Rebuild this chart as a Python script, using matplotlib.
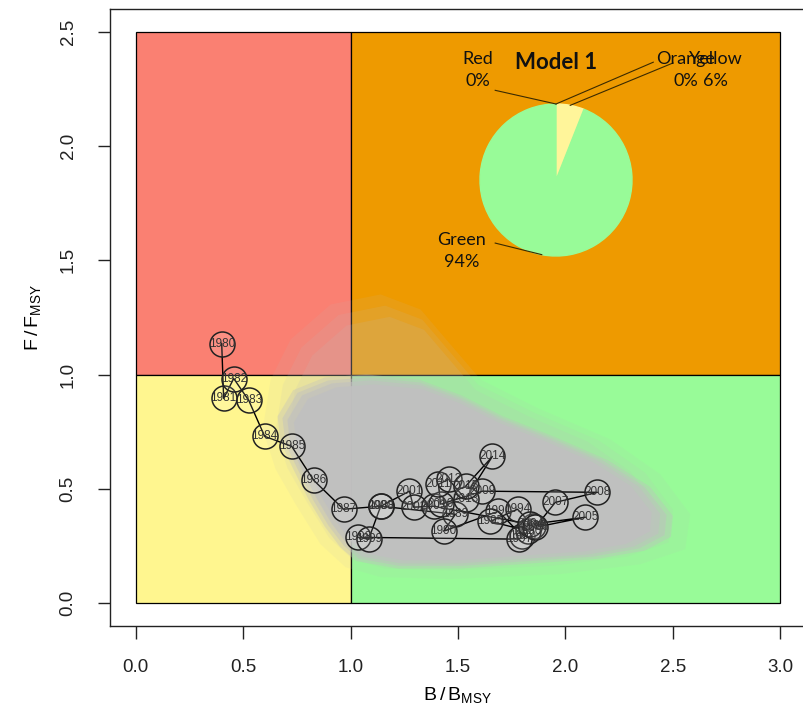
import numpy as np
import matplotlib
matplotlib.use("Agg")
import matplotlib.pyplot as plt
from matplotlib.patches import Rectangle, Polygon

plt.rcParams['font.family'] = ['Liberation Sans', 'DejaVu Sans']
plt.rcParams['mathtext.fontset'] = 'custom'
plt.rcParams['mathtext.rm'] = 'Liberation Sans'

# ---- data ----
years = list(range(1980, 2016))
b_bmsy = [0.400, 0.409, 0.456, 0.526, 0.600, 0.726, 0.828, 0.967, 1.140, 1.488,
          1.433, 1.688, 1.800, 1.851, 1.777, 1.651, 1.828, 1.786, 1.033, 1.084,
          1.140, 1.274, 1.293, 1.386, 1.837, 2.093, 1.860, 1.953, 2.149, 1.614,
          1.419, 1.409, 1.456, 1.535, 1.660, 1.535]
f_fmsy = [1.136, 0.896, 0.983, 0.887, 0.730, 0.686, 0.538, 0.411, 0.424, 0.389,
          0.315, 0.402, 0.293, 0.337, 0.411, 0.358, 0.315, 0.280, 0.288, 0.280,
          0.424, 0.490, 0.420, 0.424, 0.345, 0.376, 0.332, 0.441, 0.485, 0.490,
          0.433, 0.520, 0.542, 0.455, 0.642, 0.511]

# outline of the dense uncertainty cloud and of its faint halo
cloud_x = [0.698, 0.767, 0.907, 1.093, 1.326, 1.512, 1.698, 1.930, 2.163, 2.349,
           2.451, 2.442, 2.326, 2.116, 1.837, 1.512, 1.233, 1.047, 0.977, 0.907,
           0.837, 0.767, 0.712]
cloud_y = [0.804, 0.913, 0.966, 0.979, 0.957, 0.892, 0.804, 0.717, 0.621, 0.511,
           0.389, 0.302, 0.245, 0.210, 0.192, 0.170, 0.170, 0.201, 0.258, 0.345,
           0.455, 0.586, 0.695]
halo_x = [0.591, 0.628, 0.721, 0.907, 1.140, 1.326, 1.465, 1.605, 1.884, 2.209,
          2.442, 2.581, 2.558, 2.349, 1.977, 1.465, 1.140, 0.977, 0.860, 0.744, 0.651]
halo_y = [0.760, 0.979, 1.154, 1.307, 1.351, 1.285, 1.132, 0.979, 0.848, 0.717,
          0.564, 0.389, 0.236, 0.170, 0.127, 0.105, 0.114, 0.157, 0.258, 0.433, 0.586]

pie_labels = ["Red", "Orange", "Yellow", "Green"]
pie_pct = [0, 0, 6, 94]
pie_cols = ["#FA8072", "#EE9A00", "#FFF59A", "#98FB98"]

# quadrant colours
c_red, c_orange, c_yellow, c_green = "#FA8072", "#EE9A00", "#FFF68F", "#98FB98"

fig = plt.figure(figsize=(8.04, 7.2), dpi=100)
ax = fig.add_axes([110/804, 94/720, 696/804, 617/720])
ax.set_xlim(-0.12, 3.12)
ax.set_ylim(-0.1, 2.6)

# Kobe quadrants
for (x0, y0, w, h, c) in [(0, 1, 1, 1.5, c_red), (1, 1, 2, 1.5, c_orange),
                          (0, 0, 1, 1, c_yellow), (1, 0, 2, 1, c_green)]:
    ax.add_patch(Rectangle((x0, y0), w, h, facecolor=c, edgecolor='black', lw=0.9, zorder=1))


def soft_blob(xs, ys, color, alphas, scales, z):
    # stack a few shrunken copies so the edge fades like a point cloud
    pts = np.column_stack([xs, ys])
    cen = pts.mean(axis=0)
    for a, s in zip(alphas, scales):
        ax.add_patch(Polygon(cen + (pts - cen) * s, closed=True, facecolor=color,
                             alpha=a, edgecolor='none', zorder=z))


soft_blob(halo_x, halo_y, '#BEBEBE', [0.10, 0.12, 0.14], [1.0, 0.93, 0.86], 2)
soft_blob(cloud_x, cloud_y, '#C0C0C0', [0.35, 0.45, 0.6, 0.9], [1.05, 1.02, 0.99, 0.95], 3)

# trajectory
ax.plot(b_bmsy, f_fmsy, color='black', lw=1.0, zorder=4)
ax.scatter(b_bmsy, f_fmsy, s=18**2, facecolors=(1, 1, 1, 0.12),
           edgecolors='#222222', linewidths=1.1, zorder=5)
for yr, bx, fy in zip(years, b_bmsy, f_fmsy):
    ax.text(bx, fy, str(yr), fontsize=8.5, color='#333333', ha='center', va='center', zorder=6)

ax.set_xticks([0, 0.5, 1, 1.5, 2, 2.5, 3])
ax.set_yticks([0, 0.5, 1, 1.5, 2, 2.5])
ax.set_xticklabels(["0.0", "0.5", "1.0", "1.5", "2.0", "2.5", "3.0"])
ax.set_yticklabels(["0.0", "0.5", "1.0", "1.5", "2.0", "2.5"])
ax.tick_params(direction='out', length=9, width=1, labelsize=13.5, pad=15, colors='#222222')
for lab in ax.get_yticklabels():
    lab.set_rotation(90)
    lab.set_va('center')
for sp in ax.spines.values():
    sp.set_linewidth(1.0)
    sp.set_color('#222222')
ax.set_xlabel(r'$\mathregular{B\,/\,B_{MSY}}$', fontsize=14, labelpad=6)
ax.set_ylabel(r'$\mathregular{F\,/\,F_{MSY}}$', fontsize=14, labelpad=12)

# pie inset
pax = fig.add_axes([(556-76)/804, (720-180-76)/720, 152/804, 152/720])
wedges, _ = pax.pie(pie_pct, colors=pie_cols, startangle=90, counterclock=False, radius=1)
for w, c in zip(wedges, pie_cols):
    w.set_edgecolor(c)
    w.set_linewidth(1.0)
pax.set_xlim(-1, 1)
pax.set_ylim(-1, 1)
pax.axis('off')

label_pos = {"Red": (-1.03, 1.45), "Orange": (1.71, 1.45),
             "Yellow": (2.10, 1.45), "Green": (-1.24, -0.93)}
line_end = {"Red": (-0.80, 1.18), "Orange": (1.28, 1.55),
            "Yellow": (1.54, 1.54), "Green": (-0.80, -0.83)}
cum = np.cumsum([0] + pie_pct)
for i, name in enumerate(pie_labels):
    mid = np.deg2rad(90 - (cum[i] + pie_pct[i] / 2) / 100 * 360)
    sx, sy = np.cos(mid), np.sin(mid)
    ex, ey = line_end[name]
    pax.plot([sx, ex], [sy, ey], color='#3a2a00', lw=0.8, clip_on=False)
    tx, ty = label_pos[name]
    pax.text(tx, ty, f"{name}\n{pie_pct[i]}%", fontsize=13, family=['Lato', 'DejaVu Sans'],
             ha='center', va='center', linespacing=1.45, color='#111111', clip_on=False)
pax.text(0, 1.55, "Model 1", fontsize=16, fontweight='bold', family=['Lato', 'DejaVu Sans'],
         ha='center', va='center', color='#111111', clip_on=False)

fig.savefig('out.png', dpi=100)
